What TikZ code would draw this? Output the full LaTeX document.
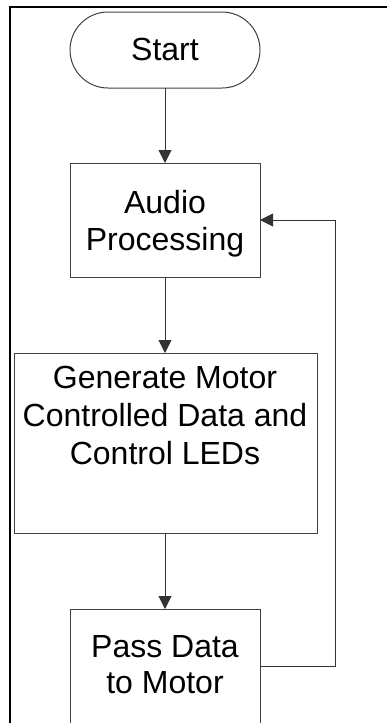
\documentclass[tikz,border=0pt]{standalone}
\usepackage{fontspec}
\setmainfont{Liberation Sans}
\usetikzlibrary{arrows.meta}
\begin{document}
\begin{tikzpicture}[x=1pt,y=-1pt,
  boxline/.style={draw=black!75,line width=1pt},
  procbox/.style={boxline,rectangle,inner sep=0pt,outer sep=0pt},
  termbox/.style={boxline,rectangle,rounded corners=38pt,inner sep=0pt,outer sep=0pt,
    minimum width=190pt,minimum height=76pt},
  lbl/.style={font=\fontsize{32}{37}\selectfont,inner sep=0pt,anchor=base},
  flow/.style={draw=black!80,line width=1pt,-{Triangle[width=13pt,length=13pt]}},
  frameline/.style={draw=black,line width=2.5pt}]
\useasboundingbox (0,0) rectangle (386,723);

% outer frame (top and left edges)
\draw[frameline] (10,723) -- (10,7) -- (388,7);

% shapes
\node[termbox] (start) at (165,50) {};
\node[procbox,minimum width=190pt,minimum height=114pt] (audio) at (165,220) {};
\node[procbox,minimum width=303pt,minimum height=180pt] (gen) at (165.5,443) {};
\node[procbox,minimum width=190pt,minimum height=114pt] (pass) at (165,666) {};

% texts
\node[lbl] (tstart) at (165,60) {Start};
\node[lbl] (taudio1) at (165,213) {Audio};
\node[lbl] (taudio2) at (165,250) {Processing};
\node[lbl] (tgen1) at (165,388) {Generate Motor};
\node[lbl] (tgen2) at (165,426) {Controlled Data and};
\node[lbl] (tgen3) at (165,464) {Control LEDs};
\node[lbl] (tpass1) at (165,657) {Pass Data};
\node[lbl] (tpass2) at (165,693) {to Motor};

% connectors
\draw[flow] (start.south) -- (audio.north);
\draw[flow] (audio.south) -- (audio.south |- gen.north);
\draw[flow] (gen.south -| pass.north) -- (pass.north);
\coordinate (loopr) at (335,666);
\draw[flow] (pass.east) -- (loopr) -- (loopr |- audio.east) -- (audio.east);
\end{tikzpicture}
\end{document}
